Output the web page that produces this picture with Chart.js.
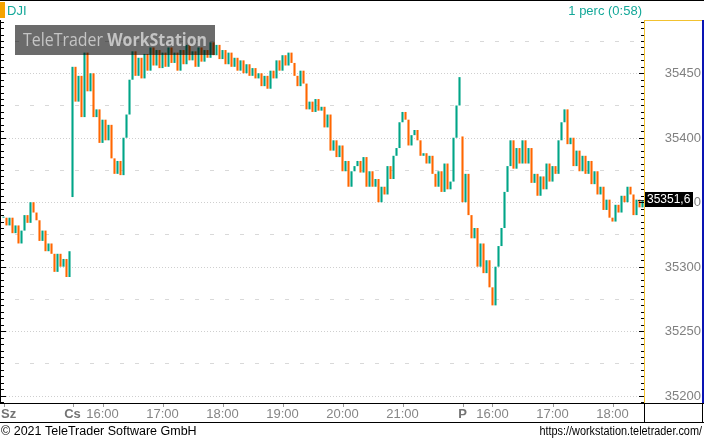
<!DOCTYPE html>
<html>
<head>
<meta charset="utf-8">
<script src="https://cdn.jsdelivr.net/npm/chart.js@4/dist/chart.umd.min.js"></script>
<style>
    html, body { margin: 0; padding: 0; background: #fff; }
    canvas { display: block; }
</style>
</head>
<body>
<canvas id="chartDJI" width="704" height="441"></canvas>
<script>
// Datos del gráfico (cierres cada 3 minutos)
const dayNames = ['Sz', 'Cs', 'P'];
const sessionStarts = ['20:53', '15:30', '15:30'];
const sessionOpens = [35338, 35354, 35401];
const barMinutes = 3;

const wedCloses = [35338, 35332, 35338, 35326, 35332, 35318, 35328, 35340, 35334, 35350, 35342, 35336,
    35320, 35328, 35312, 35318, 35310, 35296, 35310, 35300, 35306, 35292, 35312];

const thuCloses = [35455, 35428, 35448, 35416, 35466, 35436, 35450, 35416, 35422, 35396,
    35414, 35398, 35410, 35384, 35372, 35382, 35371, 35400, 35418, 35445,
    35467, 35448, 35462, 35446, 35465, 35452, 35470, 35456, 35468, 35454,
    35466, 35455, 35470, 35458, 35466, 35452, 35468, 35457, 35472, 35460,
    35467, 35455, 35470, 35459, 35468, 35462, 35474, 35464, 35472, 35461,
    35468, 35457, 35466, 35455, 35462, 35452, 35460, 35450, 35457, 35448,
    35454, 35446, 35450, 35440, 35448, 35438, 35452, 35446, 35460, 35452,
    35464, 35456, 35466, 35458, 35448, 35440, 35452, 35442, 35422, 35428,
    35420, 35430, 35421, 35424, 35408, 35418, 35390, 35398, 35385, 35394,
    35374, 35382, 35362, 35374, 35378, 35382, 35373, 35385, 35362, 35374,
    35362, 35368, 35350, 35362, 35356, 35378, 35368, 35386, 35392, 35412,
    35420, 35414, 35394, 35402, 35406, 35398, 35386, 35388, 35380, 35386,
    35372, 35362, 35374, 35358, 35380, 35360, 35366, 35400, 35425, 35447];

const friCloses = [35350, 35372, 35340, 35322, 35330, 35300, 35318, 35295, 35305, 35284,
    35270, 35300, 35316, 35330, 35358, 35378, 35398, 35376, 35392, 35380,
    35398, 35380, 35392, 35365, 35372, 35355, 35370, 35360, 35380, 35366,
    35378, 35372, 35398, 35412, 35422, 35395, 35400, 35378, 35390, 35374,
    35386, 35372, 35382, 35364, 35374, 35356, 35362, 35344, 35352, 35338,
    35335, 35348, 35342, 35355, 35350, 35362, 35356, 35340, 35352, 35346,
    35351.6];

const yTickValues = [35200, 35250, 35300, 35350, 35400, 35450];
const yMinorGrid = [35225, 35275, 35325, 35375, 35425, 35475];
const yMin = 35194.3;
const yMax = 35491.3;
const lastPrice = 35351.6;
const lastPriceText = '35351,6';

const colorUp = '#00a587';
const colorDown = '#ff6600';

// Construcción de etiquetas y barras
const labels = [];
const tickText = [];
const dayTick = [];
const bars = [];
[wedCloses, thuCloses, friCloses].forEach((closes, s) => {
    const parts = sessionStarts[s].split(':').map(Number);
    let t = parts[0] * 60 + parts[1];
    let prev = sessionOpens[s];
    closes.forEach((c, i) => {
        const hh = Math.floor(t / 60), mm = t % 60;
        const lbl = String(hh).padStart(2, '0') + ':' + String(mm).padStart(2, '0');
        labels.push(lbl);
        if (i === 0) {
            tickText.push(dayNames[s]);
            dayTick.push(true);
        } else {
            tickText.push(mm === 0 ? lbl : '');
            dayTick.push(false);
        }
        bars.push([prev, c]);
        prev = c;
        t += barMinutes;
    });
});

const chrome = {
    id: 'chrome',
    beforeDatasetsDraw(chart) {
        const { ctx, chartArea, scales } = chart;
        const y = scales.y;
        ctx.save();
        ctx.lineWidth = 1;
        ctx.strokeStyle = '#cfcfcf';
        ctx.setLineDash([1, 2]);
        yTickValues.forEach(v => {
            const py = Math.round(y.getPixelForValue(v)) + 0.5;
            ctx.beginPath();
            ctx.moveTo(0, py);
            ctx.lineTo(chartArea.right, py);
            ctx.stroke();
        });
        ctx.strokeStyle = '#d9d9d9';
        ctx.setLineDash([4, 11]);
        yMinorGrid.forEach(v => {
            const py = Math.round(y.getPixelForValue(v)) + 0.5;
            ctx.beginPath();
            ctx.moveTo(15, py);
            ctx.lineTo(chartArea.right, py);
            ctx.stroke();
        });
        ctx.restore();
    },
    afterDatasetsDraw(chart) {
        const { ctx, chartArea, scales } = chart;
        const x = scales.x, y = scales.y;
        const W = chart.width;
        const top = chartArea.top, bottom = chartArea.bottom, right = chartArea.right;
        ctx.save();

        // marca de agua
        ctx.fillStyle = 'rgba(0,0,0,0.58)';
        ctx.fillRect(15, 25, 200, 30);
        ctx.fillStyle = '#c4c4c4';
        ctx.textBaseline = 'middle';
        ctx.textAlign = 'left';
        const f1 = '18px "Open Sans"', f2 = 'bold 18px "Open Sans"';
        ctx.font = f1;
        const w1 = ctx.measureText('TeleTrader ').width;
        ctx.font = f2;
        const w2 = ctx.measureText('WorkStation').width;
        const k = 184 / (w1 + w2);
        ctx.save();
        ctx.translate(23, 41);
        ctx.scale(k, 1);
        ctx.font = f1;
        ctx.fillText('TeleTrader ', 0, 0);
        ctx.font = f2;
        ctx.fillText('WorkStation', w1, 0);
        ctx.restore();

        // bordes
        ctx.fillStyle = '#000';
        ctx.fillRect(0, 0, W, 1);
        ctx.fillRect(0, top, 1, bottom - top);
        ctx.fillRect(0, bottom, W, 1);
        ctx.fillRect(0, 422, W, 1);
        ctx.fillRect(right, bottom, 1, 19);
        ctx.fillRect(702, bottom, 1, 19);
        ctx.fillStyle = '#f2c230';
        ctx.fillRect(right, top, 1, bottom - top);
        ctx.fillRect(right, top, 702 - right, 1);
        ctx.fillStyle = '#0a14b4';
        ctx.fillRect(702, top, 2, bottom - top);

        // marcas del eje Y
        ctx.fillStyle = '#000';
        for (let v = 35195; v <= yMax; v += 5) {
            const py = Math.round(y.getPixelForValue(v));
            const major = v % 50 === 0;
            const len = major ? 5 : 3;
            ctx.fillRect(1, py, len, 1);
            ctx.fillRect(right - len, py, len, 1);
        }

        // etiquetas eje Y
        ctx.font = '13px "Liberation Sans"';
        ctx.fillStyle = '#808080';
        ctx.textAlign = 'right';
        ctx.textBaseline = 'middle';
        yTickValues.forEach(v => {
            ctx.fillText(String(v), 701, y.getPixelForValue(v) + 0.5);
        });

        // etiqueta de último precio
        const pp = y.getPixelForValue(lastPrice);
        ctx.fillStyle = '#333';
        ctx.fillRect(right - 6, Math.round(pp), 6, 1);
        ctx.fillStyle = '#000';
        ctx.fillRect(right + 1, Math.round(pp) - 8, 48, 15);
        ctx.fillStyle = '#fff';
        ctx.font = '12px "Liberation Sans"';
        ctx.textAlign = 'left';
        ctx.fillText(lastPriceText, right + 3, pp);

        // etiquetas eje X
        ctx.textBaseline = 'middle';
        ctx.textAlign = 'center';
        tickText.forEach((t, i) => {
            if (!t) return;
            let px = x.getPixelForValue(i);
            ctx.font = (dayTick[i] ? 'bold ' : '') + '13px "Liberation Sans"';
            const w = ctx.measureText(t).width;
            if (px - w / 2 < 1) px = 1 + w / 2;
            ctx.fillStyle = dayTick[i] ? '#737373' : '#858585';
            ctx.fillText(t, px, 414.5);
            ctx.fillStyle = '#999';
            ctx.fillRect(Math.round(x.getPixelForValue(i)), bottom + 1, 1, 3);
        });

        // textos superiores
        ctx.fillStyle = '#f5a300';
        ctx.fillRect(0, 2, 5, 16);
        ctx.fillStyle = '#14a899';
        ctx.font = '13px "Liberation Sans"';
        ctx.textAlign = 'left';
        ctx.fillText('DJI', 7, 11);
        ctx.textAlign = 'right';
        ctx.fillText('1 perc (0:58)', 642, 11);

        // pie
        ctx.fillStyle = '#000';
        ctx.textAlign = 'left';
        ctx.font = '12.5px "Liberation Sans"';
        ctx.fillText('© 2021 TeleTrader Software GmbH', 1, 432);
        ctx.save();
        ctx.translate(702, 432);
        ctx.scale(0.87, 1);
        ctx.textAlign = 'right';
        ctx.font = '12.5px "Liberation Sans"';
        ctx.fillText('https://workstation.teletrader.com/', 0, 0);
        ctx.restore();

        ctx.restore();
    }
};

const ctx = document.getElementById('chartDJI');
const chartDJI = new Chart(ctx, {
    type: 'bar',
    data: {
        labels: labels,
        datasets: [{
            data: bars,
            backgroundColor: bars.map(b => b[1] >= b[0] ? colorUp : colorDown),
            barPercentage: 0.7,
            categoryPercentage: 1,
            minBarLength: 1
        }]
    },
    options: {
        responsive: false,
        animation: false,
        devicePixelRatio: 1,
        layout: {
            padding: { top: 20, left: 2, right: 2, bottom: 19 }
        },
        plugins: {
            legend: { display: false },
            tooltip: { enabled: false }
        },
        scales: {
            x: {
                grid: { display: false },
                border: { display: false },
                ticks: { display: false },
                afterFit: s => { s.height = 19; }
            },
            y: {
                position: 'right',
                min: yMin,
                max: yMax,
                grid: { display: false },
                border: { display: false },
                ticks: { display: false },
                afterBuildTicks: s => { s.ticks = yTickValues.map(v => ({ value: v })); },
                afterFit: s => { s.width = 58; }
            }
        }
    },
    plugins: [chrome]
});
</script>
</body>
</html>
